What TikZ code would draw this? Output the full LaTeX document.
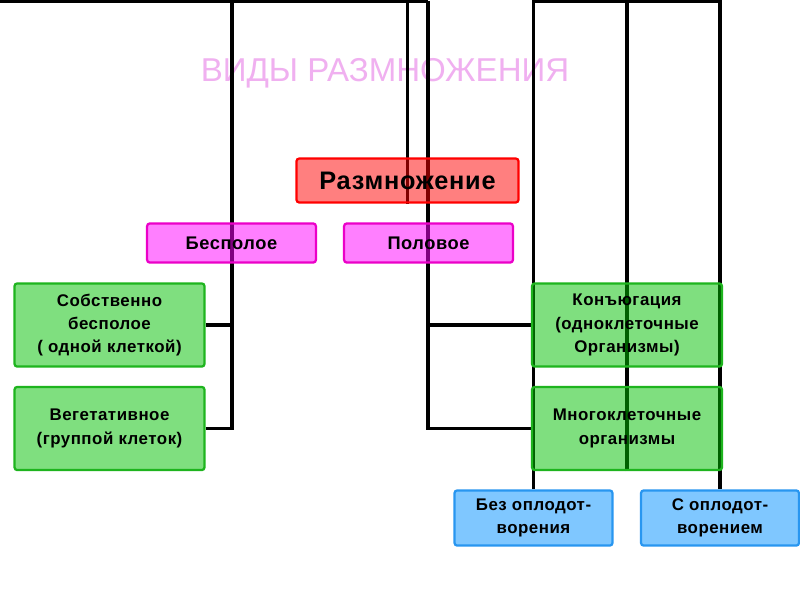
\documentclass[tikz,border=0pt]{standalone}
\usepackage{fontspec}
\setmainfont{Liberation Sans}
\newfontfamily\boxfont[LetterSpace=3]{Liberation Sans}
\usetikzlibrary{backgrounds}
\definecolor{titlepink}{RGB}{240,176,240}
\definecolor{boxred}{RGB}{255,0,0}
\definecolor{boxpink}{RGB}{255,0,255}
\definecolor{edgepink}{RGB}{235,0,200}
\definecolor{boxgreen}{RGB}{0,192,0}
\definecolor{edgegreen}{RGB}{30,180,30}
\definecolor{boxblue}{RGB}{0,144,255}
\definecolor{edgeblue}{RGB}{40,150,240}
\tikzset{
  box/.style={draw, line width=1.6pt, rounded corners=2pt, fill opacity=0.5,
    text opacity=1, align=center, inner sep=0pt},
  redbox/.style={box, draw=boxred, fill=boxred, minimum width=5.55cm, minimum height=1.1cm,
    font=\boxfont\fontsize{18}{21}\selectfont\bfseries},
  pinkbox/.style={box, draw=edgepink, fill=boxpink, minimum width=4.22cm, minimum height=0.98cm,
    font=\boxfont\fontsize{13}{16}\selectfont\bfseries},
  greenbox/.style={box, draw=edgegreen, fill=boxgreen, minimum width=4.75cm, minimum height=2.08cm,
    font=\boxfont\fontsize{12}{16.5}\selectfont\bfseries},
  bluebox/.style={box, draw=edgeblue, fill=boxblue, minimum width=3.95cm, minimum height=1.38cm,
    font=\boxfont\fontsize{12}{16.5}\selectfont\bfseries},
  link/.style={line width=2.2pt, black},
}
\begin{document}
\begin{tikzpicture}[x=0.025cm, y=-0.025cm]
  \useasboundingbox (0,0) rectangle (800,600);
  % boxes
  \node[redbox]   (razm) at (407.5,180.5) {Размножение};
  \node[pinkbox]  (bes)  at (231.5,243)   {Бесполое};
  \node[pinkbox]  (pol)  at (428.5,243)   {Половое};
  \node[greenbox] (sob)  at (109.5,325)   {Собственно\\бесполое\\( одной клеткой)};
  \node[greenbox] (veg)  at (109.5,428.5) {Вегетативное\\(группой клеток)};
  \node[greenbox] (konj) at (627,325)     {Конъюгация\\(одноклеточные\\Организмы)};
  \node[greenbox] (mnog) at (627,428.5)   {Многоклеточные\\организмы};
  \node[bluebox]  (bez)  at (533.5,518)   {Без оплодот-\\ворения};
  \node[bluebox]  (sopl) at (720,518)     {С оплодот-\\ворением};
  \coordinate (tl) at (0,1);
  \coordinate (tlL) at (232,1);
  \coordinate (tlP) at (428,1);
  % title and connectors behind the boxes
  \begin{scope}[on background layer]
    \fill[white] (0,0) rectangle (800,600);
    \node[font=\fontsize{23.5}{28}\selectfont, text=titlepink] (title) at (385,73) {ВИДЫ РАЗМНОЖЕНИЯ};
    \draw[link] (tl) -- (tlP);
    \draw[link] (sob.east) -| (tlL);
    \draw[link] (veg.east) -| (tlL);
    \draw[link] (konj.west) -| (tlP);
    \draw[link] (mnog.west) -| (tlP);
    \draw[link] (razm.south) -- (razm.south |- tl);
    \draw[link] (mnog.south) -- (mnog.south |- tl);
    \draw[link] (bez.north) |- (sopl.north |- tl) -- (sopl.north);
  \end{scope}
\end{tikzpicture}
\end{document}
